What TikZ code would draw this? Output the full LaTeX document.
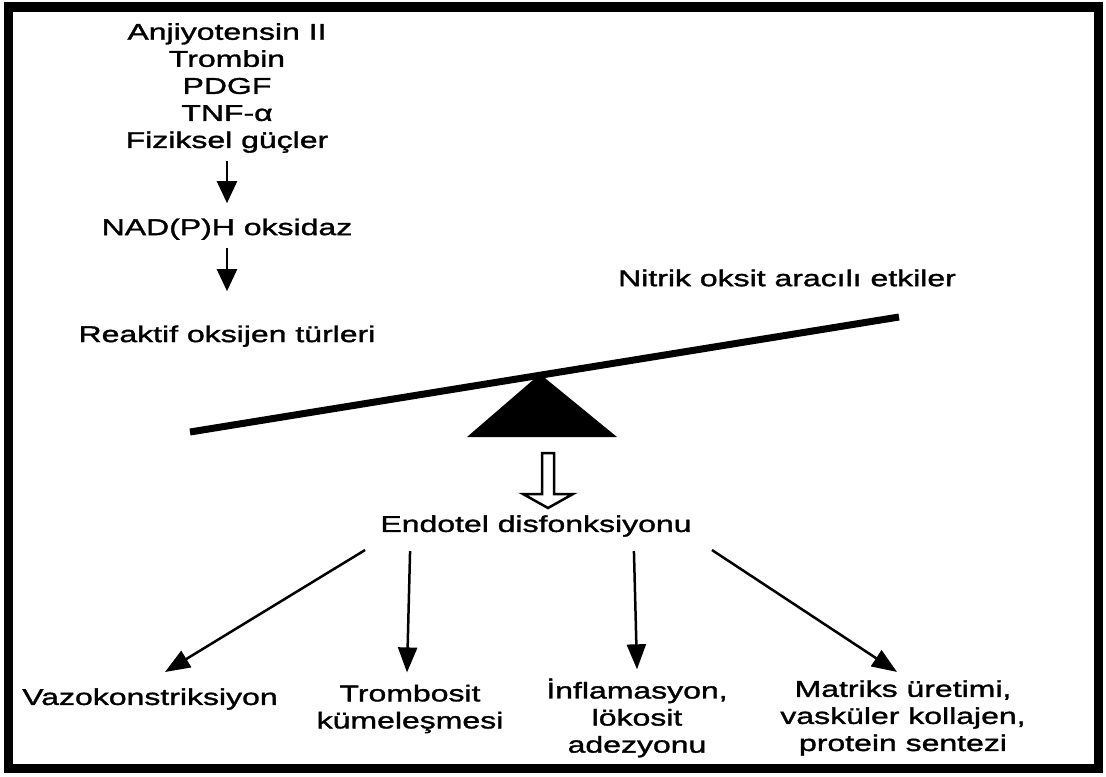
\documentclass[tikz,border=0pt]{standalone}
\usepackage{fontspec}
\setmainfont{Liberation Sans}[FakeStretch=1.4, FakeBold=1.5]
\usetikzlibrary{arrows.meta, positioning}

\begin{document}
\begin{tikzpicture}[
    x=0.2mm, y=-0.2mm,
    node distance=13mm,
    txt/.style={inner sep=0pt, align=center, font=\fontsize{13}{15.4}\selectfont},
    arrow/.style={-{Triangle[length=4.4mm, width=4mm]}, line width=0.5mm},
    farrow/.style={-{Triangle[length=5mm, width=3.8mm]}, line width=0.5mm},
    beam/.style={line width=1.4mm},
  ]

  % Frame
  \useasboundingbox (0,0) rectangle (1106,776);
  \draw[line width=1.8mm] (8,7) rectangle (1098,768);

  % Stimuli chain
  \node[txt] (stimuli) at (227,88) {Anjiyotensin II\\Trombin\\PDGF\\TNF-α\\Fiziksel güçler};
  \node[txt, below=13mm of stimuli] (nadph) {NAD(P)H oksidaz};
  \node[txt, below=17mm of nadph] (ros) {Reaktif oksijen türleri};

  \draw[arrow, shorten <=1.6mm, shorten >=3mm] (stimuli) -- (nadph);
  \draw[arrow, shorten <=1.6mm, shorten >=6.8mm] (nadph) -- (ros);

  % Balance
  \node[txt] (no) at (787,278) {Nitrik oksit aracılı etkiler};
  \draw[beam] (190,432) -- (899,317);
  \fill (540,374) -- (617,437) -- (467,437) -- cycle;
  \draw[line width=0.5mm] (542,453) -- (554,453) -- (554,494) -- (573,494) -- (548,508)
    -- (523,494) -- (542,494) -- cycle;

  % Dysfunction
  \node[txt] (endo) at (536,526) {Endotel disfonksiyonu};

  % Outcomes
  \node[txt] (vazo) at (150,699) {Vazokonstriksiyon};
  \node[txt] (trombo) at (410,709) {Trombosit\\kümeleşmesi};
  \node[txt] (inflam) at (637,718) {İnflamasyon,\\lökosit\\adezyonu};
  \node[txt] (matriks) at (903,718) {Matriks üretimi,\\vasküler kollajen,\\protein sentezi};

  \draw[farrow] ([shift={(-15,13)}]endo.south west) -- ([shift={(15,-16)}]vazo.north);
  \draw[farrow] ([shift={(30,14)}]endo.south west) -- ([shift={(-3,-12)}]trombo.north);
  \draw[farrow] ([shift={(-58,14)}]endo.south east) -- ([shift={(0,-9)}]inflam.north);
  \draw[farrow] ([shift={(20,13)}]endo.south east) -- ([shift={(-6,-8)}]matriks.north);

\end{tikzpicture}
\end{document}
